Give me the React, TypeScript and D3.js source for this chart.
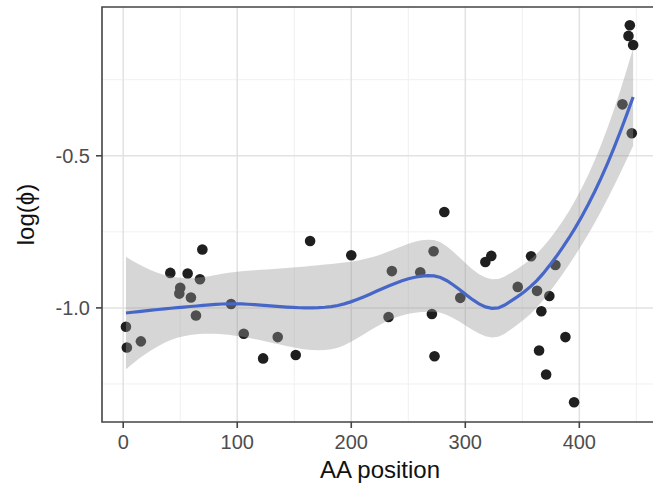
import React from 'react';
import * as d3 from 'd3';

// AA position (x) and log(phi) (y)
const positions = [
  2.4, 3.2, 15.5, 41.3, 50, 49.2, 56.5, 59.4, 63.8, 67.3, 69.4, 94.6, 105.7, 122.7,
  135.5, 151.3, 163.9, 200, 235.6, 232.7, 260.5, 272.2, 270.7, 273, 281.6, 295.6,
  317.6, 322.8, 346, 357.7, 362.9, 379, 373.7, 366.7, 387.8, 364.7, 370.9, 395.4,
  437.8, 446, 444.3, 443.1, 447.2
];
const logPhi = [
  -1.062, -1.13, -1.11, -0.885, -0.934, -0.953, -0.887, -0.966, -1.025, -0.906, -0.808,
  -0.987, -1.085, -1.166, -1.096, -1.155, -0.78, -0.827, -0.879, -1.03, -0.883, -0.814,
  -1.02, -1.159, -0.685, -0.967, -0.849, -0.829, -0.931, -0.83, -0.944, -0.859, -0.961,
  -1.011, -1.096, -1.14, -1.219, -1.31, -0.331, -0.426, -0.071, -0.106, -0.136
];
const xMajor = [0, 100, 200, 300, 400];
const xMinor = [50, 150, 250, 350, 450];
const yMajor = [-0.5, -1.0];
const yMinor = [-0.25, -0.75, -1.25];

// local quadratic fit at x0 (span 0.75, tricube); rows for value and slope
function localRows(xs: number[], x0: number, span = 0.75) {
  const n = xs.length;
  const q = Math.floor(n * span);
  const dist = xs.map(x => Math.abs(x - x0));
  const h = [...dist].sort((a, b) => a - b)[q - 1];
  const w = dist.map(d => (d < h ? Math.pow(1 - Math.pow(d / h, 3), 3) : 0));
  const m = [[0, 0, 0], [0, 0, 0], [0, 0, 0]];
  xs.forEach((x, i) => {
    const b = [1, x - x0, (x - x0) ** 2];
    for (let r = 0; r < 3; r++) for (let c = 0; c < 3; c++) m[r][c] += w[i] * b[r] * b[c];
  });
  const inv = invert3(m);
  const row = (k: number) =>
    xs.map((x, i) => w[i] * (inv[k][0] + inv[k][1] * (x - x0) + inv[k][2] * (x - x0) ** 2));
  return { val: row(0), slope: row(1) };
}

function invert3(m: number[][]) {
  const [a, b, c] = m[0], [d, e, f] = m[1], [g, h, i] = m[2];
  const A = e * i - f * h, B = -(d * i - f * g), C = d * h - e * g;
  const det = a * A + b * B + c * C;
  return [
    [A / det, -(b * i - c * h) / det, (b * f - c * e) / det],
    [B / det, (a * i - c * g) / det, -(a * f - c * d) / det],
    [C / det, -(a * h - b * g) / det, (a * e - b * d) / det],
  ];
}

// loess surface interpolated between kd-tree vertices, as R does by default
function smooth(xs: number[], ys: number[], span = 0.75) {
  const n = xs.length;
  const sorted = [...xs].sort((a, b) => a - b);
  const fc = Math.floor(n * span * 0.2);
  const [lo, hi] = [sorted[0], sorted[n - 1]];
  const mu = 0.005 * (hi - lo);
  const verts = [lo - mu, hi + mu];
  const split = (l: number, u: number) => {
    if (u - l + 1 <= fc) return;
    const m = Math.floor((l + u) / 2);
    verts.push((sorted[m] + sorted[m + 1]) / 2);
    split(l, m);
    split(m + 1, u);
  };
  split(0, n - 1);
  verts.sort((a, b) => a - b);
  const vr = verts.map(v => localRows(xs, v, span));

  const rowAt = (x: number) => {
    let k = d3.bisectRight(verts, x) - 1;
    k = Math.max(0, Math.min(verts.length - 2, k));
    const h = verts[k + 1] - verts[k];
    const t = (x - verts[k]) / h;
    const h00 = 2 * t ** 3 - 3 * t ** 2 + 1, h10 = t ** 3 - 2 * t ** 2 + t;
    const h01 = -2 * t ** 3 + 3 * t ** 2, h11 = t ** 3 - t ** 2;
    const A = vr[k], B = vr[k + 1];
    return xs.map((_, j) =>
      h00 * A.val[j] + h10 * h * A.slope[j] + h01 * B.val[j] + h11 * h * B.slope[j]);
  };

  const L = xs.map(rowAt);
  const fitted = L.map(l => d3.sum(l, (v, j) => v * ys[j]));
  const res = ys.map((y, i) => y - fitted[i]);
  const M = d3.range(n).map(i => d3.range(n).map(j => {
    let s = 0;
    for (let k = 0; k < n; k++) {
      const a = (k === i ? 1 : 0) - L[k][i];
      const b = (k === j ? 1 : 0) - L[k][j];
      s += a * b;
    }
    return s;
  }));
  const one = d3.sum(d3.range(n), i => M[i][i]);
  let two = 0;
  for (let i = 0; i < n; i++) for (let j = 0; j < n; j++) two += M[i][j] * M[j][i];
  const df = (one * one) / two;
  const sigma = Math.sqrt(d3.sum(res, r => r * r) / one);
  const tq = 1.96 + 2.4 / df;
  return d3.range(80).map(k => {
    const x = lo + ((hi - lo) * k) / 79;
    const l = rowAt(x);
    const y = d3.sum(l, (v, j) => v * ys[j]);
    const se = sigma * Math.sqrt(d3.sum(l, v => v * v));
    return { x, y, ymin: y - tq * se, ymax: y + tq * se };
  });
}

export default function App() {
  const left = 102, right = 658, top = 7, bottom = 422;
  const x = d3.scaleLinear().domain([-18.6, 469]).range([left, right]);
  const y = d3.scaleLinear().domain([-1.375, -0.011]).range([bottom, top]);
  const fit = smooth(positions, logPhi);

  const band = d3.area<any>().x(d => x(d.x)).y0(d => y(d.ymin)).y1(d => y(d.ymax))(fit) as string;
  const line = d3.line<any>().x(d => x(d.x)).y(d => y(d.y))(fit) as string;
  const font = '"Liberation Sans", Arial, sans-serif';

  return (
    <svg width={653} height={484} style={{ position: 'absolute', left: 0, top: 0, background: '#fff' }}
      fontFamily={font}>
      <rect x={left} y={top} width={right - left} height={bottom - top} fill="#fff" />
      {xMinor.map(v => <line key={'xm' + v} x1={x(v)} x2={x(v)} y1={top} y2={bottom} stroke="#f0f0f0" strokeWidth={1} />)}
      {yMinor.map(v => <line key={'ym' + v} x1={left} x2={right} y1={y(v)} y2={y(v)} stroke="#f0f0f0" strokeWidth={1} />)}
      {xMajor.map(v => <line key={'xM' + v} x1={x(v)} x2={x(v)} y1={top} y2={bottom} stroke="#e2e2e2" strokeWidth={1.5} />)}
      {yMajor.map(v => <line key={'yM' + v} x1={left} x2={right} y1={y(v)} y2={y(v)} stroke="#e2e2e2" strokeWidth={1.5} />)}

      {positions.map((p, i) => (
        <circle key={i} cx={x(p)} cy={y(logPhi[i])} r={5.3} fill="#1f1f1f" />
      ))}
      <path d={band} fill="#999" fillOpacity={0.4} />
      <path d={line} fill="none" stroke="#4767c8" strokeWidth={3.2} />

      <path d={`M${right},${top}H${left}V${bottom}H${right}`} fill="none" stroke="#444" strokeWidth={1.6} />

      {yMajor.map(v => (
        <g key={'yt' + v}>
          <line x1={left - 6} x2={left} y1={y(v)} y2={y(v)} stroke="#444" strokeWidth={1.6} />
          <text x={left - 12} y={y(v) + 7} textAnchor="end" fontSize={20} fill="#4d4d4d">{v.toFixed(1)}</text>
        </g>
      ))}
      {xMajor.map(v => (
        <g key={'xt' + v}>
          <line x1={x(v)} x2={x(v)} y1={bottom} y2={bottom + 6} stroke="#444" strokeWidth={1.6} />
          <text x={x(v)} y={bottom + 27} textAnchor="middle" fontSize={20} fill="#4d4d4d">{v}</text>
        </g>
      ))}

      <text x={380} y={478} textAnchor="middle" fontSize={24} fill="#111">AA position</text>
      <text transform={`translate(34,${(top + bottom) / 2}) rotate(-90)`} textAnchor="middle" fontSize={24} fill="#111">log(ϕ)</text>
    </svg>
  );
}
